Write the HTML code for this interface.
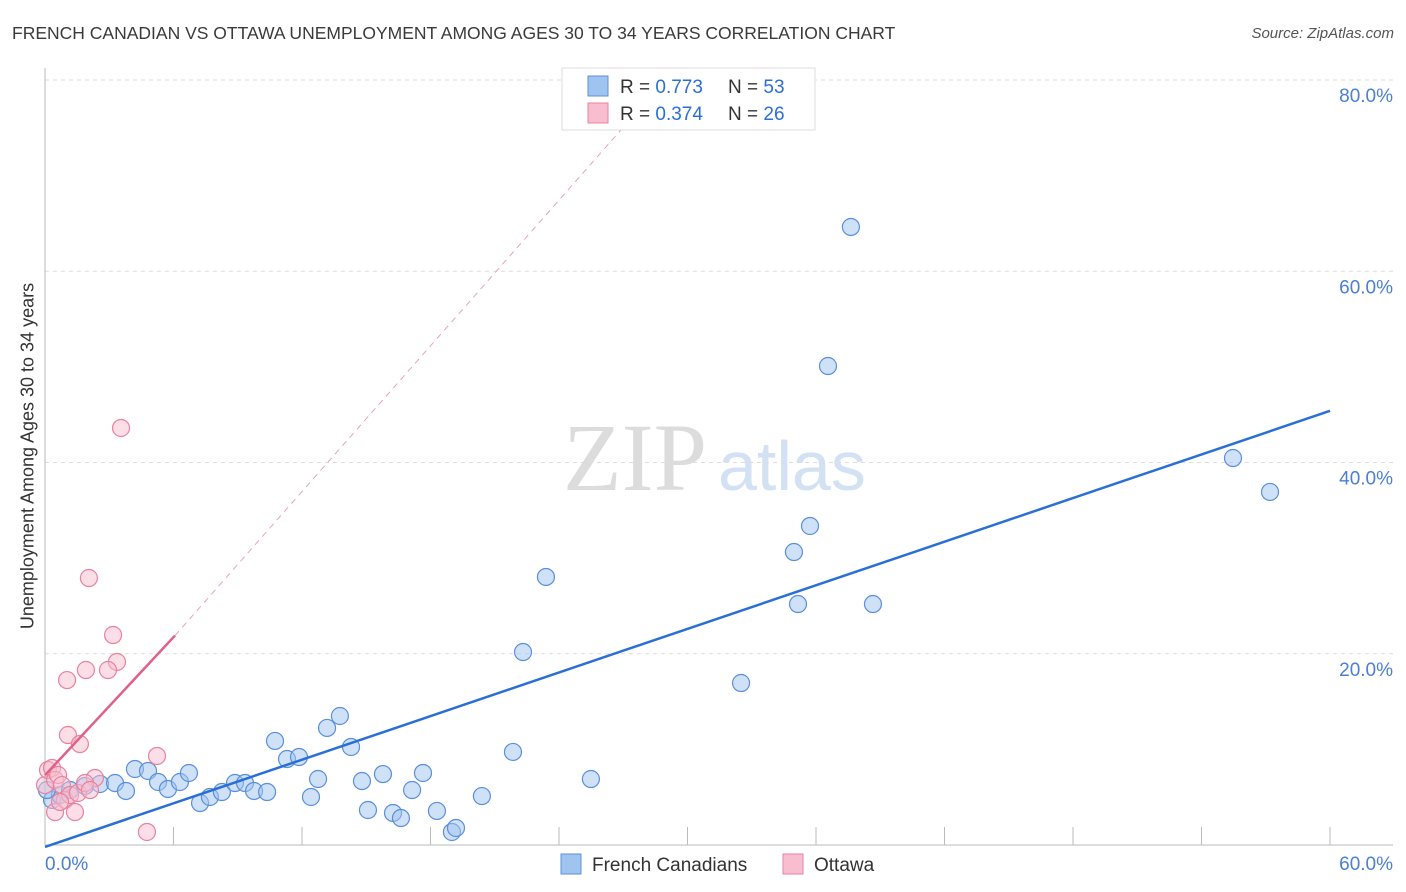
<!DOCTYPE html>
<html><head><meta charset="utf-8"><style>
body{margin:0;background:#fff;font-family:"Liberation Sans",sans-serif}
#wrap{position:relative;width:1406px;height:892px}
.t{position:absolute;white-space:nowrap}
</style></head><body><div id="wrap">
<div class="t" style="left:12px;top:23px;font-size:17.5px;color:#3a3a3a">FRENCH CANADIAN VS OTTAWA UNEMPLOYMENT AMONG AGES 30 TO 34 YEARS CORRELATION CHART</div>
<div class="t" style="right:12px;top:25px;font-size:15px;color:#555;font-style:italic">Source: ZipAtlas.com</div>
<div class="t" style="left:28px;top:456px;font-size:18px;color:#333;transform:translate(-50%,-50%) rotate(-90deg)">Unemployment Among Ages 30 to 34 years</div>
<svg id="svg" width="1406" height="892" style="position:absolute;left:0;top:0"></svg>
</div>
<script>
const blueX=[52,60,70,85,100,115,126,135,148,158,168,180,189,200,210,222,235,245,254,267,275,287,299,311,318,327,340,351,362,368,383,393,401,412,423,437,452,456,482,513,523,546,591,741,794,798,810,828,851,873,1233,1270,47].map(p=>+((p-45)/1285*60).toFixed(2));
const blueY=[800,795,790,786,784,783,791,769,771,782,789,782,773,803,797,792,783,783,791,792,741,759,757,797,779,728,716,747,781,810,774,813,818,790,773,811,832,828,796,752,652,577,779,683,552,604,526,366,227,604,458,492,790].map(p=>+((845-p)/9.5625).toFixed(2));
const pinkX=[45,48,52,55,58,62,65,68,70,75,78,80,86,89,95,113,117,108,121,147,157,67,55,85,90,60].map(p=>+((p-45)/1285*60).toFixed(2));
const pinkY=[785,770,768,780,775,785,800,735,795,812,793,744,670,578,778,635,662,670,428,832,756,680,812,783,790,802].map(p=>+((845-p)/9.5625).toFixed(2));
const blueFit=[[0,-0.2],[60,45.4]];
const pinkFit=[[0,7.3],[6.07,21.9]];
const pinkDash=[[6.07,21.9],[27.1,75.3]];
const yTicks=[20,40,60,80];
const X=v=>45+v/60*1285, Y=v=>845-v*9.5625;
const s=document.getElementById('svg');const NS='http://www.w3.org/2000/svg';
function mk(t,a,p){const e=document.createElementNS(NS,t);for(const k in a)e.setAttribute(k,a[k]);(p||s).appendChild(e);return e;}
let w=mk('text',{x:635,y:490,'text-anchor':'middle','font-size':96,fill:'#dcdcdc','font-family':'Liberation Serif'});w.textContent='ZIP';

let w2=mk('text',{x:718,y:490,'text-anchor':'start','font-size':70,fill:'#d3e1f4'});w2.textContent='atlas';

yTicks.forEach(v=>{const l=mk('line',{x1:45,x2:1393,y1:Y(v),y2:Y(v),stroke:'#ddd','stroke-dasharray':'4,4'});

const t=mk('text',{x:1393,y:Y(v)+22,'text-anchor':'end','font-size':19,fill:'#4a7fd4'});t.textContent=v.toFixed(1)+'%';
});
mk('line',{x1:45,x2:45,y1:68,y2:845,stroke:'#bbb'});
mk('line',{x1:45,x2:1393,y1:845,y2:845,stroke:'#bbb'});
for(let i=1;i<=10;i++){const l=mk('line',{x1:X(i*6),x2:X(i*6),y1:827,y2:845,stroke:'#bbb'});}
[[0,'0.0%',45,'start'],[60,'60.0%',1393,'end']].forEach(d=>{const t=mk('text',{x:d[2],y:870,'text-anchor':d[3],'font-size':19,fill:'#4a7fd4'});t.textContent=d[1];});
blueX.forEach((x,i)=>{const c=mk('circle',{cx:X(x),cy:Y(blueY[i]),r:8.5,fill:'rgba(160,196,240,0.5)',stroke:'#5b8fdc','stroke-width':1.2});});
pinkX.forEach((x,i)=>{const c=mk('circle',{cx:X(x),cy:Y(pinkY[i]),r:8.5,fill:'rgba(248,190,208,0.5)',stroke:'#e8839f','stroke-width':1.2});});
let l1=mk('line',{x1:X(blueFit[0][0]),y1:Y(blueFit[0][1]),x2:X(blueFit[1][0]),y2:Y(blueFit[1][1]),stroke:'#2a6fd6','stroke-width':2.5});
let l2=mk('line',{x1:X(pinkFit[0][0]),y1:Y(pinkFit[0][1]),x2:X(pinkFit[1][0]),y2:Y(pinkFit[1][1]),stroke:'#e0608a','stroke-width':2.5});
let l3=mk('line',{x1:X(pinkDash[0][0]),y1:Y(pinkDash[0][1]),x2:X(pinkDash[1][0]),y2:Y(pinkDash[1][1]),stroke:'#eaa0b8','stroke-width':1,'stroke-dasharray':'6,5'});
let g=mk('g',{});
mk('rect',{x:562,y:68,width:253,height:62,fill:'#fff',stroke:'#ddd'},g);
[[86,'#a0c4f0','#5b8fdc','0.773','53'],[113,'#f8bed0','#e8839f','0.374','26']].forEach(r=>{
mk('rect',{x:588,y:r[0]-10,width:20,height:20,fill:r[1],stroke:r[2]},g);
const t=mk('text',{x:620,y:r[0]+7,'font-size':19,fill:'#333'},g);
t.innerHTML='R = <tspan fill="#2a6fd6">'+r[3]+'</tspan><tspan x="728">N = </tspan><tspan fill="#2a6fd6">'+r[4]+'</tspan>';});
[[561,'#a0c4f0','#5b8fdc','French Canadians'],[783,'#f8bed0','#e8839f','Ottawa']].forEach(r=>{
const gg=mk('g',{});
mk('rect',{x:r[0],y:854,width:20,height:20,fill:r[1],stroke:r[2]},gg);
const t=mk('text',{x:r[0]+31,y:871,'font-size':19,fill:'#333'},gg);t.textContent=r[3];});
</script></body></html>
